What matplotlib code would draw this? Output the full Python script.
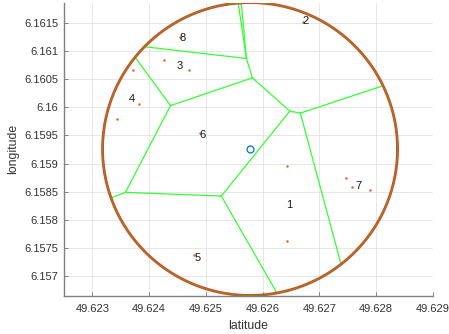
import numpy as np
import matplotlib
matplotlib.use("Agg")
import matplotlib.pyplot as plt
from matplotlib.ticker import FuncFormatter

plt.rcParams["font.family"] = ["Liberation Sans", "DejaVu Sans"]

# circle (search area)
center = (49.62578, 6.15926)
radius = 0.0026

# voronoi vertices inside the circle
vert_x = [49.625716, 49.625822, 49.624378, 49.623583, 49.625274, 49.626481, 49.626667]
vert_y = [6.160867, 6.160523, 6.160030, 6.158490, 6.158425, 6.159932, 6.159897]
# open edges end on the circle, given by angle in degrees
edge_angles = [94.6, 93.4, 135.7, 141.2, 199.5, 280.5, 308.1, 25.6]

# edges between vertices (index pairs)
inner_edges = [(0, 1), (1, 2), (1, 5), (2, 3), (3, 4), (4, 5), (5, 6)]
# edges from vertex index to boundary angle index
outer_edges = [(0, 0), (0, 1), (0, 2), (2, 3), (3, 4), (4, 5), (6, 6), (6, 7)]

# measured points
pts_x = [49.624537, 49.624255, 49.624702, 49.623712, 49.623818, 49.623429, 49.624891,
         49.626423, 49.626433, 49.624785, 49.627471, 49.627577, 49.627900, 49.626711,
         49.625597]
pts_y = [6.161251, 6.160837, 6.160660, 6.160660, 6.160051, 6.159790, 6.159537,
         6.158957, 6.157632, 6.157378, 6.158749, 6.158590, 6.158531, 6.161517,
         6.161850]

# cluster labels
lab_text = ["1", "2", "3", "4", "5", "6", "7", "8"]
lab_x = [49.626463, 49.626764, 49.624537, 49.623689, 49.624855, 49.624944, 49.627700, 49.624590]
lab_y = [6.158265, 6.161529, 6.160731, 6.160145, 6.157325, 6.159507, 6.158602, 6.161227]

fig = plt.figure(figsize=(4.49, 3.34), dpi=100)
ax = fig.add_axes([0.1425, 0.1147, 0.8212, 0.877])

ax.grid(True, color="#e3e3e3", linewidth=0.6)
ax.set_axisbelow(True)

# voronoi edges
green = "#33ff33"
for i, j in inner_edges:
    ax.plot([vert_x[i], vert_x[j]], [vert_y[i], vert_y[j]], color=green, lw=0.9)
for i, k in outer_edges:
    a = np.deg2rad(edge_angles[k])
    bx = center[0] + radius * np.cos(a)
    by = center[1] + radius * np.sin(a)
    ax.plot([vert_x[i], bx], [vert_y[i], by], color=green, lw=0.9)

# circle
t = np.linspace(0, 2 * np.pi, 400)
ax.plot(center[0] + radius * np.cos(t), center[1] + radius * np.sin(t), color="#ff2a2a", lw=2.0)
ax.plot(center[0] + radius * np.cos(t), center[1] + radius * np.sin(t), color="#6a9a1a", lw=0.9)

ax.plot(pts_x, pts_y, "o", color="#E8602A", ms=1.8, mew=0)
ax.plot(center[0], center[1], "o", mfc="none", mec="#0072BD", ms=5, mew=0.9)

for s, x, y in zip(lab_text, lab_x, lab_y):
    ax.text(x, y, s, fontsize=8, ha="center", va="center", color="#1a1a1a")

ax.set_xlim(49.6225, 49.629)
ax.set_ylim(6.156656, 6.161856)
ax.set_xticks(np.arange(49.623, 49.62901, 0.001))
ax.set_yticks(np.arange(6.157, 6.16151, 0.0005))
fmt = FuncFormatter(lambda v, p: "%.6g" % round(v, 5))
ax.xaxis.set_major_formatter(fmt)
ax.yaxis.set_major_formatter(fmt)

for side in ["top", "right"]:
    ax.spines[side].set_visible(False)
for side in ["left", "bottom"]:
    ax.spines[side].set_color("#808080")
    ax.spines[side].set_linewidth(1.0)
ax.tick_params(direction="in", length=3, width=0.7, color="#808080",
               labelsize=8, labelcolor="#333333")
ax.tick_params(axis="x", pad=6)
ax.tick_params(axis="y", pad=4)

ax.set_xlabel("latitude", fontsize=8.8, color="#333333", labelpad=4)
ax.set_ylabel("longitude", fontsize=8.8, color="#333333", labelpad=4)

fig.savefig("out.png", dpi=100, facecolor="white")
